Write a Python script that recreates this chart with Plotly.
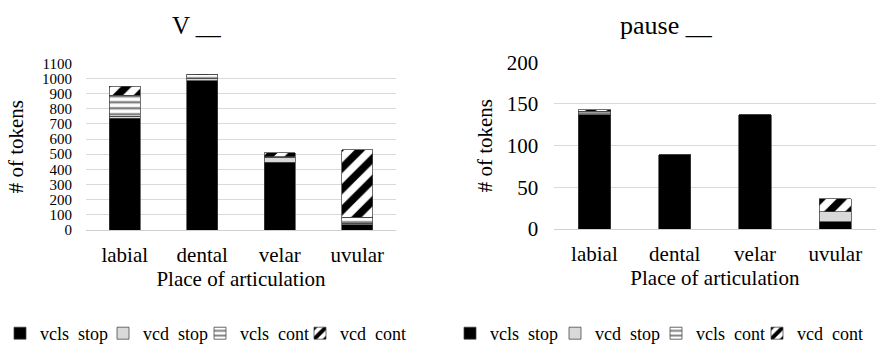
import plotly.graph_objects as go

categories = ["labial", "dental", "velar", "uvular"]
series_names = ["vcls  stop", "vcd  stop", "vcls  cont", "vcd  cont"]

# Left chart: V __
v_vcls_stop = [738, 985, 447, 35]
v_vcd_stop = [12, 12, 33, 10]
v_vcls_cont = [140, 28, 5, 40]
v_vcd_cont = [60, 3, 25, 445]

# Right chart: pause __
p_vcls_stop = [137, 89, 137, 9]
p_vcd_stop = [0, 0, 0, 12]
p_vcls_cont = [4, 0, 0, 0]
p_vcd_cont = [2, 0, 0, 15]

left_ticks = list(range(0, 1101, 100))
right_ticks = list(range(0, 201, 50))

FONT = "Liberation Serif"
FW, FH = 876, 346
ML, MB = 45, 25
PW, PH = FW - ML, FH - MB


def px2x(px):
    return (px - ML) / PW


def py2y(py):
    return (PH - py) / PH


styles = [
    dict(color="#000000"),
    dict(color="#d9d9d9"),
    dict(color="#ffffff", pattern=dict(shape="-", fgcolor="#7f7f7f", bgcolor="#ffffff",
                                       fgopacity=1, size=6, solidity=0.4)),
    dict(color="#ffffff", pattern=dict(shape="/", fgcolor="#000000", bgcolor="#ffffff",
                                       fgopacity=1, size=15, solidity=0.5)),
]

fig = go.Figure()
left_data = [v_vcls_stop, v_vcd_stop, v_vcls_cont, v_vcd_cont]
right_data = [p_vcls_stop, p_vcd_stop, p_vcls_cont, p_vcd_cont]

# legend box left edges (px); legend text begins ~40px to the right
left_legend_pos = [0, 103, 200, 300]
right_legend_pos = [450, 555, 656, 757]

legends = {}
for i, (name, vals, st) in enumerate(zip(series_names, left_data, styles)):
    lid = f"legend{i + 2}"
    fig.add_trace(go.Bar(
        x=categories, y=vals, name=name, xaxis="x", yaxis="y", legend=lid,
        marker=dict(line=dict(color="#404040", width=0.75), **st),
    ))
    legends[lid] = left_legend_pos[i]
for i, (name, vals, st) in enumerate(zip(series_names, right_data, styles)):
    lid = f"legend{i + 6}"
    fig.add_trace(go.Bar(
        x=categories, y=vals, name=name, xaxis="x2", yaxis="y2", legend=lid,
        marker=dict(line=dict(color="#404040", width=0.75), **st),
    ))
    legends[lid] = right_legend_pos[i]

axis_common = dict(showgrid=False, showline=True, linecolor="#d0d0d0", linewidth=1,
                   ticks="", automargin=False, ticklabelstandoff=6,
                   tickfont=dict(family=FONT, size=21, color="#000"))
yaxis_common = dict(showgrid=True, gridcolor="#d9d9d9", gridwidth=1, zeroline=False,
                    showline=False, ticks="", automargin=False)

layout = dict(
    width=FW, height=FH,
    margin=dict(l=ML, r=0, t=0, b=MB, autoexpand=False),
    paper_bgcolor="white", plot_bgcolor="white",
    barmode="stack", bargap=0.6,
    font=dict(family=FONT, size=18, color="#000"),
    xaxis=dict(domain=[px2x(86), px2x(396)], anchor="y",
               title=dict(text="Place of articulation", font=dict(family=FONT, size=21, color="#000"), standoff=5),
               **axis_common),
    yaxis=dict(domain=[py2y(230), py2y(63.3)], anchor="x", range=[0, 1100],
               tickvals=left_ticks, ticklabelstandoff=13,
               tickfont=dict(family=FONT, size=15, color="#000"),
               title=dict(text="# of tokens", standoff=12, font=dict(family=FONT, size=21, color="#000")),
               **yaxis_common),
    xaxis2=dict(domain=[px2x(554.3), px2x(875.5)], anchor="y2",
                title=dict(text="Place of articulation", font=dict(family=FONT, size=21, color="#000"), standoff=5),
                **axis_common),
    yaxis2=dict(domain=[py2y(229), py2y(62.3)], anchor="x2", range=[0, 200],
                tickvals=right_ticks, ticklabelstandoff=15,
                tickfont=dict(family=FONT, size=21, color="#000"),
                title=dict(text="# of tokens", standoff=8, font=dict(family=FONT, size=21, color="#000")),
                **yaxis_common),
    annotations=[
        dict(text="V __", x=px2x(196), y=py2y(25), xref="paper", yref="paper",
             showarrow=False, font=dict(family=FONT, size=25, color="#000"),
             xanchor="center", yanchor="middle"),
        dict(text="pause __", x=px2x(666), y=py2y(25), xref="paper", yref="paper",
             showarrow=False, font=dict(family=FONT, size=26, color="#000"),
             xanchor="center", yanchor="middle"),
    ],
)
for lid, lx in legends.items():
    layout[lid] = dict(orientation="h", x=px2x(lx), xanchor="left",
                       y=py2y(352), yanchor="bottom",
                       font=dict(family=FONT, size=18, color="#000"), itemwidth=30,
                       bgcolor="rgba(0,0,0,0)")

fig.update_layout(**layout)
fig.write_html("out.html", config={"displayModeBar": False},
               post_script="document.body.style.margin='0px';")
